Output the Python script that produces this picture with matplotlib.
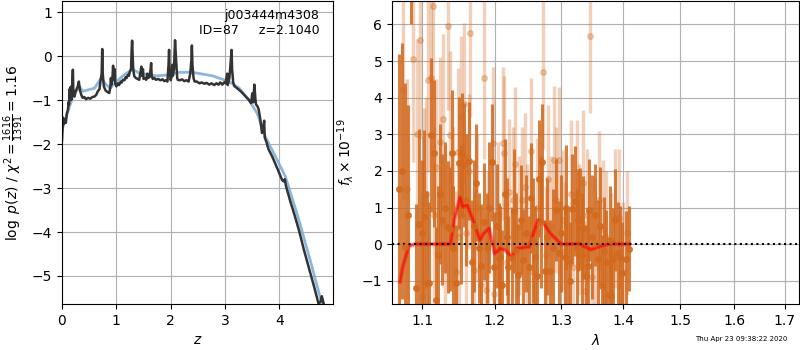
import matplotlib
matplotlib.use('Agg')
import matplotlib.pyplot as plt

# --- p(z) panel data ---
z_pz = [0.00, 0.02, 0.03, 0.05, 0.07, 0.09, 0.11, 0.12, 0.13, 0.14, 0.15, 0.16, 0.17, 0.18,
        0.19, 0.20, 0.21, 0.23, 0.25, 0.27, 0.29, 0.31, 0.33, 0.36, 0.38, 0.41, 0.44, 0.48,
        0.52, 0.56, 0.60, 0.63, 0.66, 0.69, 0.71, 0.73, 0.74, 0.75, 0.77, 0.80, 0.84, 0.87,
        0.89, 0.90, 0.91, 0.93, 0.94, 0.95, 0.97, 0.98, 1.00, 1.03, 1.05, 1.08, 1.10, 1.12,
        1.15, 1.17, 1.19, 1.21, 1.23, 1.25, 1.27, 1.28, 1.29, 1.30, 1.31, 1.33, 1.36, 1.39,
        1.42, 1.44, 1.46, 1.47, 1.49, 1.50, 1.53, 1.55, 1.57, 1.58, 1.61, 1.63, 1.64, 1.65,
        1.67, 1.70, 1.73, 1.77, 1.81, 1.85, 1.88, 1.91, 1.94, 1.96, 1.97, 1.98, 2.00, 2.02,
        2.03, 2.04, 2.06, 2.08, 2.10, 2.12, 2.13, 2.17, 2.21, 2.25, 2.29, 2.33, 2.36, 2.38,
        2.39, 2.40, 2.42, 2.44, 2.48, 2.53, 2.57, 2.62, 2.66, 2.71, 2.75, 2.80, 2.84, 2.88,
        2.91, 2.95, 2.98, 3.01, 3.04, 3.05, 3.08, 3.10, 3.12, 3.13, 3.15, 3.17, 3.21, 3.26,
        3.32, 3.38, 3.44, 3.48, 3.50, 3.52, 3.54, 3.56, 3.57, 3.60, 3.62, 3.65, 3.68, 3.70,
        3.72, 3.73, 3.76, 3.80, 3.87, 3.96, 4.05, 4.08, 4.10, 4.12, 4.20, 4.28, 4.36, 4.45,
        4.55, 4.64, 4.72, 4.76, 4.78, 4.80, 4.82]
lnp_pz = [-1.91, -1.40, -1.55, -1.45, -1.52, -1.30, -1.22, -1.05, -1.10, -0.75, -0.95, -0.70, -1.00, -0.85,
          -0.60, -0.31, -0.85, -0.92, -0.80, -0.75, -0.69, -0.58, -0.78, -0.90, -0.95, -0.93, -0.98, -0.95,
          -0.97, -0.93, -0.92, -0.88, -0.80, -0.75, -0.55, -0.40, 0.16, -0.40, -0.69, -0.78, -0.82, -0.84,
          -0.70, -0.50, -0.65, -0.45, -0.22, -0.55, -0.30, -0.62, -0.69, -0.62, -0.66, -0.58, -0.60, -0.54,
          -0.55, -0.48, -0.50, -0.43, -0.45, -0.35, -0.30, 0.10, 0.35, 0.00, -0.30, -0.46, -0.50, -0.52,
          -0.54, -0.40, -0.24, -0.45, -0.30, -0.52, -0.50, -0.54, -0.40, -0.50, -0.48, -0.30, -0.16, -0.45,
          -0.52, -0.50, -0.54, -0.52, -0.55, -0.53, -0.57, -0.55, -0.58, -0.20, 0.14, -0.30, -0.55, -0.45,
          -0.20, -0.45, -0.30, 0.36, -0.10, -0.50, -0.54, -0.55, -0.53, -0.57, -0.55, -0.58, -0.40, -0.10,
          0.24, -0.20, -0.50, -0.58, -0.58, -0.62, -0.60, -0.63, -0.61, -0.65, -0.62, -0.66, -0.62, -0.65,
          -0.60, -0.65, -0.60, -0.62, -0.40, -0.66, -0.50, -0.20, 0.14, -0.30, -0.60, -0.68, -0.72, -0.77,
          -0.84, -0.92, -1.00, -1.07, -0.85, -1.05, -0.65, -1.00, -1.10, -1.15, -1.22, -1.45, -1.75, -1.65,
          -1.47, -1.85, -1.95, -2.12, -2.29, -2.55, -2.82, -2.85, -2.80, -2.95, -3.30, -3.62, -3.96, -4.40,
          -4.85, -5.25, -5.63, -5.58, -5.46, -5.55, -5.66]

z_smooth = [0.00, 0.08, 0.20, 0.32, 0.38, 0.48, 0.60, 0.72, 0.81, 0.89, 0.97, 1.12,
            1.30, 1.42, 1.73, 1.97, 2.16, 2.40, 2.77, 3.07, 3.26, 3.44, 3.59, 3.74,
            3.93, 4.11, 4.36, 4.60, 4.78]
lnp_smooth = [-1.68, -1.37, -0.92, -0.69, -0.80, -0.77, -0.73, -0.50, -0.65, -0.73, -0.62, -0.45,
              -0.30, -0.39, -0.45, -0.43, -0.37, -0.37, -0.45, -0.58, -0.73, -1.00, -1.30, -1.83,
              -2.29, -2.74, -3.73, -4.79, -5.63]

# --- spectrum panel data ---
lam_dark = [1.070, 1.077, 1.085, 1.096, 1.102, 1.106, 1.109, 1.112, 1.116, 1.118, 1.123, 1.127,
            1.134, 1.137, 1.142, 1.146, 1.149, 1.154, 1.157, 1.164, 1.174, 1.178, 1.184, 1.189,
            1.196, 1.199, 1.206, 1.208, 1.211, 1.215, 1.220, 1.225, 1.234, 1.238, 1.242, 1.250,
            1.254, 1.260, 1.263, 1.265, 1.270, 1.274, 1.282, 1.292, 1.297, 1.305, 1.310, 1.316,
            1.321, 1.326, 1.330, 1.335, 1.339, 1.344, 1.353, 1.365, 1.372, 1.376, 1.380, 1.384,
            1.387, 1.391, 1.395, 1.410,
            1.073, 1.081, 1.092, 1.099, 1.121, 1.131, 1.140, 1.152, 1.160, 1.168, 1.171, 1.181,
            1.192, 1.203, 1.218, 1.228, 1.231, 1.246, 1.257, 1.268, 1.278, 1.287, 1.300, 1.308,
            1.313, 1.324, 1.332, 1.342, 1.348, 1.358, 1.362, 1.369, 1.378, 1.399, 1.405]
f_dark = [1.50, -0.09, 7.50, 0.55, 0.73, -1.06, -1.06, 2.99, 2.48, -1.53, 1.37, 0.67,
          0.47, 0.41, -0.10, -1.07, 2.22, 2.43, 2.16, 2.27, 1.68, -0.11, 0.61, -0.10,
          2.23, -0.62, -0.37, -0.35, -1.12, 1.37, -0.62, -0.39, -0.85, 0.67, -0.44, -0.62,
          1.25, -0.35, -0.87, 1.79, 2.23, -0.74, -0.74, 0.93, -0.23, -0.35, -0.46, 0.95,
          1.17, 0.66, 0.69, 0.45, -0.88, 0.93, 0.79, -1.14, -0.48, -1.38, -1.41, -0.41,
          0.66, -0.24, -0.35, -0.12,
          2.00, 0.80, -1.20, 0.30, -0.30, 1.00, 2.50, 0.80, 1.20, -0.50, 0.50, -0.60,
          1.00, 0.50, 0.20, 0.90, -0.20, 0.30, 0.10, 0.60, 0.20, -0.10, 0.30, 1.00,
          -1.00, -0.10, -0.30, -0.60, 0.20, -0.40, 0.50, -0.20, 0.10, -0.80, -0.40]
e_dark = [3.7, 4.5, 1.5, 2.6, 2.4, 2.5, 2.2, 2.1, 2.0, 2.0, 1.9, 1.8,
          1.8, 1.7, 1.7, 1.6, 1.8, 1.7, 1.7, 1.6, 1.6, 1.5, 1.6, 1.5,
          1.6, 1.5, 1.5, 1.4, 1.5, 1.5, 1.4, 1.4, 1.4, 1.5, 1.4, 1.4,
          1.5, 1.4, 1.4, 1.6, 1.6, 1.4, 1.4, 1.4, 1.4, 1.4, 1.4, 1.5,
          1.5, 1.4, 1.4, 1.4, 1.4, 1.4, 1.4, 1.4, 1.4, 1.4, 1.5, 1.4,
          1.4, 1.4, 1.4, 1.15,
          3.5, 3.0, 2.3, 2.0, 1.9, 1.8, 1.7, 1.9, 1.8, 1.7, 1.8, 1.7,
          1.8, 1.7, 1.6, 1.7, 1.6, 1.6, 1.7, 1.8, 1.6, 1.6, 1.6, 1.7,
          1.6, 1.6, 1.7, 1.6, 1.7, 1.6, 1.6, 1.5, 1.5, 1.4, 1.3]

lam_light = [1.075, 1.088, 1.097, 1.099, 1.102, 1.105, 1.108, 1.111, 1.114, 1.118, 1.128, 1.134,
             1.137, 1.145, 1.148, 1.152, 1.156, 1.160, 1.165, 1.170, 1.180, 1.184, 1.187, 1.197,
             1.199, 1.212, 1.214, 1.221, 1.226, 1.230, 1.240, 1.244, 1.254, 1.256, 1.272, 1.280,
             1.288, 1.292, 1.297, 1.302, 1.315, 1.318, 1.324, 1.334, 1.337, 1.345, 1.348, 1.360,
             1.366, 1.387, 1.393, 1.400,
             1.080, 1.093, 1.116, 1.123, 1.131, 1.141, 1.150, 1.163, 1.175, 1.191, 1.205, 1.218,
             1.235, 1.248, 1.262, 1.276, 1.284, 1.306, 1.328, 1.341, 1.354, 1.372, 1.380, 1.406]
f_light = [4.20, 5.05, 5.57, -1.44, 1.13, 1.38, 4.48, 4.53, 6.50, 2.11, 3.43, 5.96,
           2.98, -0.76, 2.52, 3.48, 3.84, 0.29, 5.78, -0.71, -1.12, 4.53, -1.26, 2.75,
           -1.35, 2.75, 2.48, 1.43, 1.20, 2.20, 1.20, 1.57, 2.54, -0.76, 4.70, 1.79,
           2.31, 1.20, 2.30, 0.66, 1.38, -0.62, 1.38, 1.66, -1.28, 5.68, -0.89, 1.20,
           0.40, 0.70, 0.70, -0.76,
           1.50, 3.00, 0.80, 2.80, 0.50, 1.00, 0.20, 2.00, 1.00, 0.00, 0.80, -0.50,
           0.50, 0.30, 1.00, -0.30, 0.50, -0.20, 0.40, 0.80, 0.00, 0.20, -0.30, 0.30]
e_light = [3.0, 2.8, 2.7, 2.8, 2.6, 2.6, 2.5, 2.5, 2.5, 2.4, 2.3, 2.3,
           2.3, 2.2, 2.3, 2.2, 2.2, 2.2, 2.3, 2.2, 2.1, 2.2, 2.1, 2.1,
           2.1, 2.1, 2.1, 2.0, 2.0, 2.1, 2.0, 2.0, 2.0, 2.0, 2.1, 2.0,
           2.0, 2.0, 2.0, 1.9, 2.0, 1.9, 2.0, 2.0, 1.9, 2.1, 1.9, 1.9,
           1.9, 1.9, 1.9, 1.9,
           3.0, 2.6, 2.4, 2.3, 2.2, 2.2, 2.1, 2.1, 2.0, 2.0, 2.0, 2.0,
           1.9, 1.9, 1.9, 1.9, 1.9, 1.9, 1.8, 1.8, 1.8, 1.8, 1.7, 1.7]

lam_model = [1.071, 1.0745, 1.082, 1.090, 1.138, 1.143, 1.151, 1.155, 1.161, 1.170, 1.179, 1.184,
             1.192, 1.200, 1.208, 1.215, 1.225, 1.232, 1.251, 1.257, 1.264, 1.273, 1.283, 1.300,
             1.329, 1.347, 1.364, 1.380, 1.390, 1.410]
f_model = [-1.03, -0.62, -0.07, 0.00, 0.00, 0.66, 1.27, 1.02, 1.07, 0.61, 0.11, 0.29,
           0.43, -0.26, -0.12, -0.16, -0.35, -0.12, -0.07, 0.29, 0.66, 0.56, 0.29, 0.00,
           0.00, -0.15, -0.05, 0.02, 0.00, 0.00]

lam_ticks = [1.1, 1.2, 1.3, 1.4, 1.5, 1.6, 1.7]

fig = plt.figure(figsize=(8, 3.5), dpi=100)

# p(z)
ax1 = fig.add_axes([0.0775, 0.131, 0.339, 0.866])
ax1.plot(z_smooth, lnp_smooth, color='#7fb0da', lw=2, alpha=0.9)
ax1.plot(z_pz, lnp_pz, color='#333333', lw=1.8)
ax1.set_xlim(0, 4.99)
ax1.set_ylim(-5.64, 1.25)
ax1.grid(color='#b0b0b0')
ax1.set_axisbelow(True)
ax1.set_xlabel('$z$')
ax1.set_ylabel(r'$\log\ p(z)$ / $\chi^2=\frac{1616}{1391}=1.16$')
ax1.text(0.95, 0.975, 'j003444m4308\nID=87     z=2.1040', transform=ax1.transAxes,
         ha='right', va='top', fontsize=9)

# spectrum
ax2 = fig.add_axes([0.49, 0.131, 0.509, 0.866])
ax2.errorbar(lam_light, f_light, yerr=e_light, fmt='o', color='chocolate', alpha=0.3,
             ms=4, elinewidth=2.5, capsize=0)
ax2.errorbar(lam_dark, f_dark, yerr=e_dark, fmt='o', color='chocolate', alpha=0.85,
             ms=4, elinewidth=2.2, capsize=0)
ax2.plot(lam_model, f_model, color='r', lw=3, alpha=0.4)
ax2.plot(lam_model, f_model, color='r', lw=1.2, alpha=0.6)
ax2.axhline(0, color='k', ls=':', lw=1.5)
ax2.set_xscale('log')
ax2.set_xlim(1.0607, 1.73)
ax2.set_ylim(-1.64, 6.64)
ax2.minorticks_off()
ax2.set_xticks(lam_ticks)
ax2.set_xticklabels([f'{v:.1f}' for v in lam_ticks])
ax2.grid(color='#b0b0b0')
ax2.set_axisbelow(True)
ax2.set_xlabel(r'$\lambda$')
ax2.set_ylabel(r'$f_\lambda\times10^{-19}$')

fig.text(0.984, 0.031, 'Thu Apr 23 09:38:22 2020', ha='right', va='center', fontsize=5)

fig.savefig('out.png', dpi=100)
